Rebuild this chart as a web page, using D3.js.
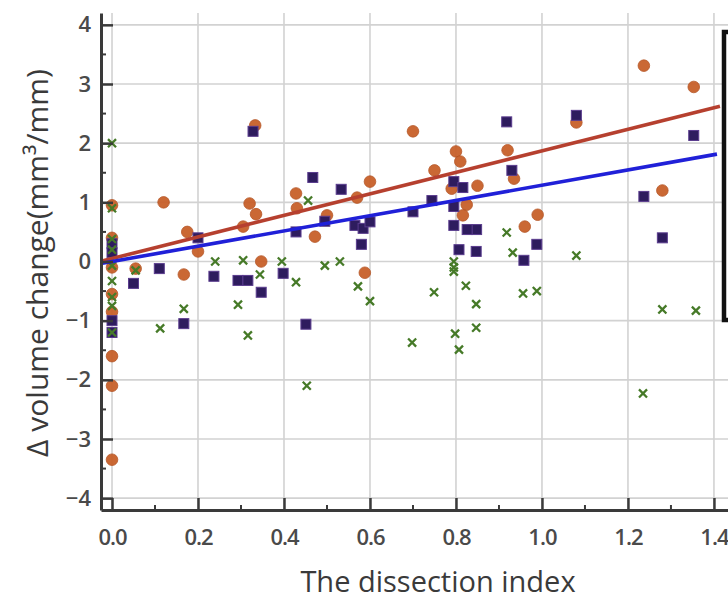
<!DOCTYPE html>
<html>
<head>
<meta charset="utf-8">
<script src="https://cdn.jsdelivr.net/npm/d3@7"></script>
<style>
  html, body { margin: 0; padding: 0; background: #fff; }
  svg { display: block; }
</style>
</head>
<body>
<svg id="chart" width="728" height="603"></svg>
<script>
// ---- data ----
const xDomain = [-0.0256, 1.435];
const yDomain = [-4.2, 4.2];
const xTicks = [0.0, 0.2, 0.4, 0.6, 0.8, 1.0, 1.2, 1.4];
const xTickLabels = ["0.0", "0.2", "0.4", "0.6", "0.8", "1.0", "1.2", "1.4"];
const yTicks = [-4, -3, -2, -1, 0, 1, 2, 3, 4];
const yTickLabels = ["\u22124", "\u22123", "\u22122", "\u22121", "0", "1", "2", "3", "4"];
const xTitle = "The dissection index";
const yTitle = "\u0394 volume change(mm\u00b3/mm)";

// orange circles
const seriesCircle = [
  [0, 0.95], [0, 0.4], [0, -0.1], [0, -0.55], [0, -0.85], [0, -1.6], [0, -2.1], [0, -3.35],
  [0.055, -0.12], [0.12, 1.0], [0.175, 0.5], [0.2, 0.17], [0.167, -0.22],
  [0.305, 0.59], [0.32, 0.98], [0.335, 0.8], [0.333, 2.3], [0.347, 0.0],
  [0.428, 1.15], [0.43, 0.9], [0.472, 0.42], [0.5, 0.78],
  [0.57, 1.08], [0.6, 1.35], [0.588, -0.19], [0.70, 2.2], [0.75, 1.54],
  [0.80, 1.86], [0.81, 1.69], [0.85, 1.28], [0.79, 1.23], [0.825, 0.96], [0.816, 0.78],
  [0.92, 1.88], [0.935, 1.4], [0.96, 0.59], [0.99, 0.79],
  [1.08, 2.35], [1.237, 3.31], [1.28, 1.2], [1.353, 2.95]
];
// purple squares
const seriesSquare = [
  [0, 0.3], [0, 0.15], [0, -1.0], [0, -1.2],
  [0.05, -0.37], [0.11, -0.12], [0.167, -1.05], [0.2, 0.4], [0.237, -0.25],
  [0.293, -0.32], [0.316, -0.32], [0.347, -0.52], [0.328, 2.2], [0.398, -0.2],
  [0.428, 0.5], [0.467, 1.42], [0.495, 0.68], [0.533, 1.22], [0.451, -1.06],
  [0.565, 0.61], [0.584, 0.56], [0.6, 0.67], [0.58, 0.29],
  [0.70, 0.84], [0.744, 1.03], [0.795, 1.35], [0.816, 1.25], [0.795, 0.93], [0.795, 0.61],
  [0.807, 0.2], [0.847, 0.17], [0.848, 0.54], [0.826, 0.54],
  [0.918, 2.36], [0.93, 1.54], [0.988, 0.29], [0.958, 0.02],
  [1.08, 2.47], [1.237, 1.1], [1.28, 0.4], [1.353, 2.13]
];
// green crosses
const seriesCross = [
  [0, 2.0], [0, 0.9], [0, 0.38], [0, 0.2], [0, -0.07], [0, -0.33], [0, -0.6], [0, -0.75], [0, -1.2],
  [0.055, -0.15], [0.112, -1.13], [0.167, -0.8], [0.24, 0.0], [0.305, 0.02], [0.293, -0.73],
  [0.316, -1.25], [0.344, -0.22], [0.395, 0.0], [0.428, -0.35], [0.456, 1.03], [0.453, -2.1],
  [0.495, -0.07], [0.53, 0.0], [0.572, -0.42], [0.6, -0.67], [0.698, -1.37], [0.749, -0.52],
  [0.795, 0.0], [0.795, -0.1], [0.795, -0.17], [0.798, -1.22], [0.807, -1.49], [0.823, -0.41],
  [0.847, -0.72], [0.847, -1.12],
  [0.918, 0.49], [0.932, 0.15], [0.956, -0.54], [0.988, -0.5], [1.08, 0.1],
  [1.235, -2.23], [1.28, -0.81], [1.358, -0.83]
];
// regression lines: [intercept, slope, xStart, xEnd]
const fitRed = [0.05, 1.82, -0.0256, 1.414];
const fitBlue = [0.0, 1.29, -0.0256, 1.407];

// ---- drawing ----
const svg = d3.select("#chart");
const x = d3.scaleLinear().domain(xDomain).range([101, 729]);
const y = d3.scaleLinear().domain(yDomain).range([510, 13]);

// grid
const grid = svg.append("g");
grid.selectAll(".vg").data(xTicks).join("line")
  .attr("x1", d => x(d)).attr("x2", d => x(d))
  .attr("y1", y(yDomain[1])).attr("y2", y(yDomain[0]))
  .attr("stroke", "#d2d2d2").attr("stroke-width", 1.6);
grid.selectAll(".hg").data(yTicks).join("line")
  .attr("x1", x(xDomain[0])).attr("x2", 728)
  .attr("y1", d => y(d)).attr("y2", d => y(d))
  .attr("stroke", "#d2d2d2").attr("stroke-width", 1.6);

// legend box edge (clipped at right)
svg.append("rect").attr("x", 724).attr("y", 32).attr("width", 30).attr("height", 288)
  .attr("fill", "#fff").attr("stroke", "#111").attr("stroke-width", 4.5);

// points
const pts = svg.append("g");
pts.selectAll(".c").data(seriesCircle).join("circle")
  .attr("cx", d => x(d[0])).attr("cy", d => y(d[1])).attr("r", 5.8)
  .attr("fill", "#c8602a").attr("stroke", "#b25020").attr("stroke-width", 0.8).attr("opacity", 0.95);
pts.selectAll(".s").data(seriesSquare).join("rect")
  .attr("x", d => x(d[0]) - 5).attr("y", d => y(d[1]) - 5).attr("width", 10).attr("height", 10)
  .attr("fill", "#2e1c5e").attr("stroke", "#5a3c8e").attr("stroke-width", 1);
const sym = d3.symbol().type(d3.symbolX).size(44);
pts.selectAll(".x").data(seriesCross).join("path")
  .attr("transform", d => `translate(${x(d[0])},${y(d[1])})`)
  .attr("d", sym)
  .attr("fill", "none").attr("stroke", "#467a28").attr("stroke-width", 2.3);

// fit lines
function fitLine(f, color) {
  const p = [f[2], f[3]].map(v => [v, f[0] + f[1] * v]);
  svg.append("line")
    .attr("x1", x(p[0][0])).attr("y1", y(p[0][1]))
    .attr("x2", x(p[1][0])).attr("y2", y(p[1][1]))
    .attr("stroke", color).attr("stroke-width", 3.6);
}
fitLine(fitRed, "#b6402f");
fitLine(fitBlue, "#2020d8");

// axes
const axisColor = "#3a3a3a";
const xAxis = d3.axisBottom(x).tickValues(xTicks).tickFormat((d, i) => xTickLabels[i])
  .tickSizeInner(-12).tickSizeOuter(0).tickPadding(19);
const gx = svg.append("g").attr("transform", `translate(0,${y(yDomain[0])})`).call(xAxis);
const yAxis = d3.axisLeft(y).tickValues(yTicks).tickFormat((d, i) => yTickLabels[i])
  .tickSizeInner(-12).tickSizeOuter(0).tickPadding(10);
const gy = svg.append("g").attr("transform", `translate(${x(xDomain[0])},0)`).call(yAxis);

// minor ticks
const xMinor = xTicks.slice(0, -1).map(v => v + 0.1);
gx.selectAll(".minor").data(xMinor).join("line").attr("class", "minor")
  .attr("x1", d => x(d)).attr("x2", d => x(d)).attr("y1", 0).attr("y2", -5)
  .attr("stroke", axisColor).attr("stroke-width", 2);
const yMinor = yTicks.slice(0, -1).map(v => v + 0.5);
gy.selectAll(".minor").data(yMinor).join("line").attr("class", "minor")
  .attr("y1", d => y(d)).attr("y2", d => y(d)).attr("x1", 0).attr("x2", 5)
  .attr("stroke", axisColor).attr("stroke-width", 2);

[gx, gy].forEach(g => {
  g.select(".domain").attr("stroke", axisColor).attr("stroke-width", 3);
  g.selectAll(".tick line").attr("stroke", axisColor).attr("stroke-width", 2.5);
  g.selectAll(".tick text").attr("fill", "#4a4a4a")
    .style("font-family", "'Open Sans', sans-serif").style("font-size", "22px").style("font-weight", 600);
});
gx.selectAll(".tick text").attr("dy", "0.71em").attr("letter-spacing", "-1");

// titles
svg.append("text").attr("x", 438).attr("y", 592).attr("text-anchor", "middle")
  .attr("fill", "#3a3a3a").style("font-family", "'Open Sans', sans-serif").style("font-size", "29px")
  .text(xTitle);
svg.append("text").attr("transform", "translate(48,263) rotate(-90)").attr("text-anchor", "middle")
  .attr("fill", "#3a3a3a").style("font-family", "'Open Sans', sans-serif").style("font-size", "30px")
  .text(yTitle);
</script>
</body>
</html>
